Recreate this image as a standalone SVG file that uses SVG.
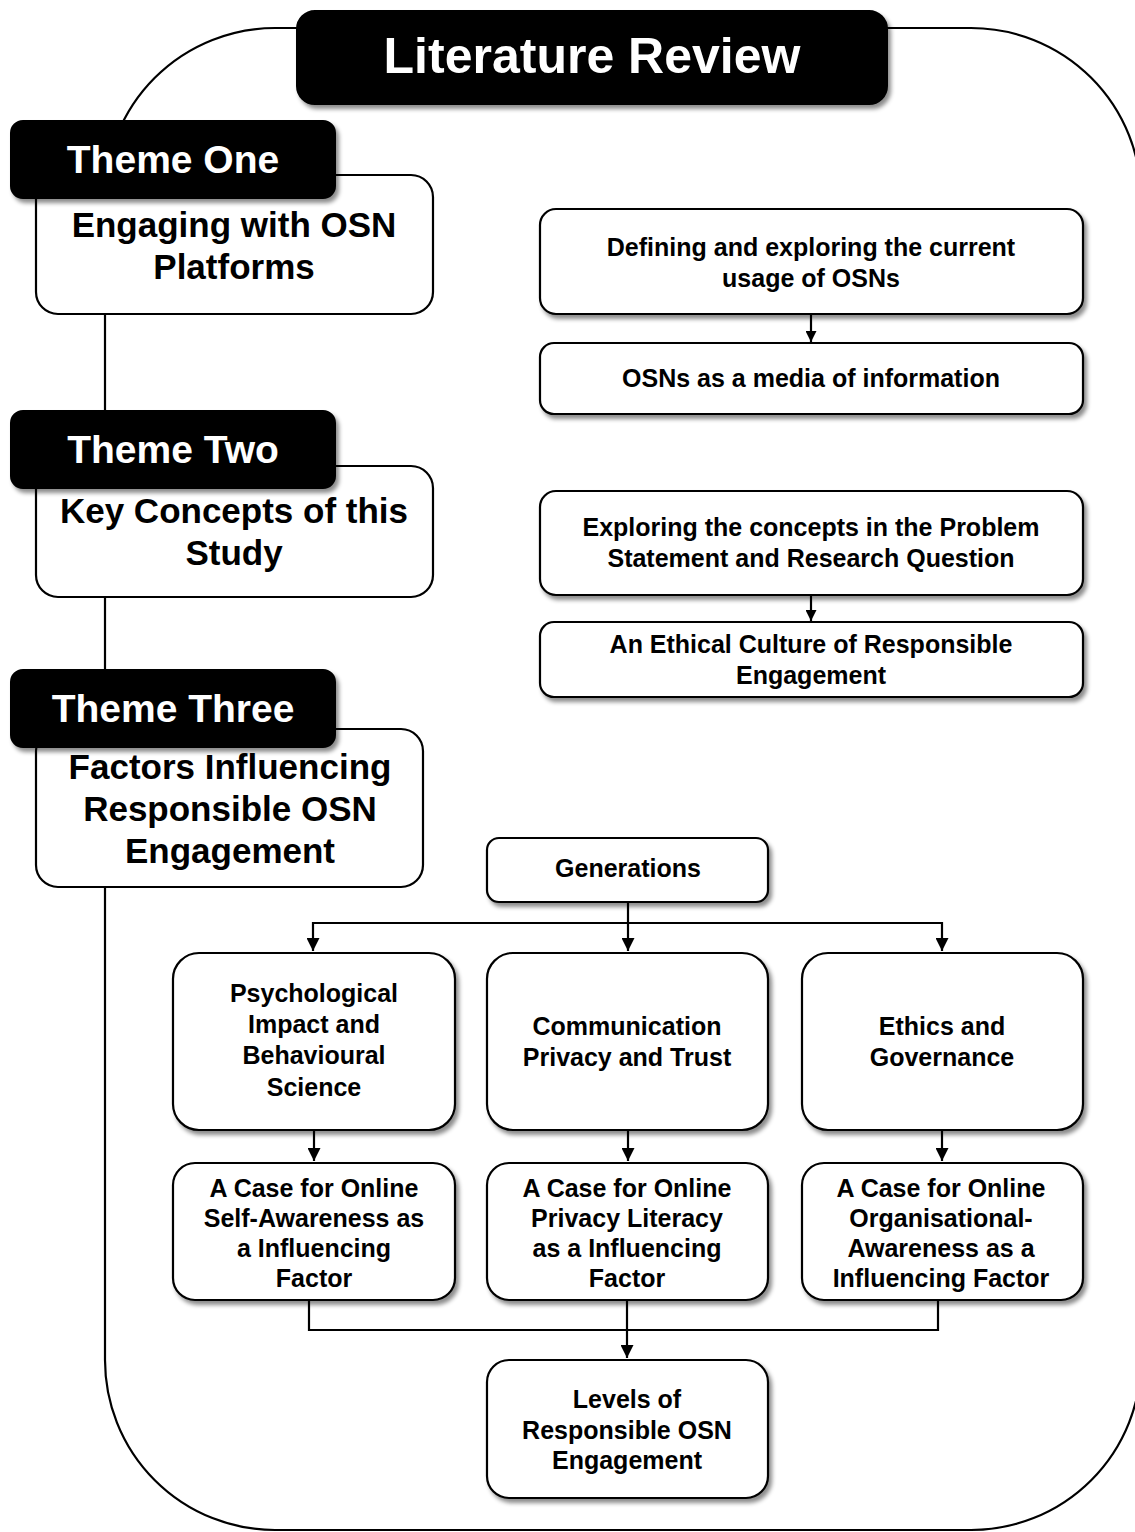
<svg xmlns="http://www.w3.org/2000/svg" width="1135" height="1532" viewBox="0 0 1135 1532">
  <style>
    .box { fill: #ffffff; stroke: #000000; stroke-width: 2.2; }
    .dark { fill: #000000; stroke: #000000; stroke-width: 2; }
    .frame { fill: none; stroke: #000000; stroke-width: 2.2; }
    .wire { fill: none; stroke: #000000; stroke-width: 2.2; }
    .t { font-family: "Liberation Sans", Arial, sans-serif; font-weight: bold; text-anchor: middle; fill: #000000; }
    .w { fill: #ffffff; }
    .s25 { font-size: 25px; }
    .s35 { font-size: 35px; }
    .s39 { font-size: 39px; }
    .s50 { font-size: 50px; }
  </style>
  <defs>
    <filter id="shadow" x="-10%" y="-10%" width="125%" height="135%">
      <feDropShadow dx="3" dy="4" stdDeviation="2.2" flood-color="#000000" flood-opacity="0.45"/>
    </filter>
    <marker id="arrow" viewBox="0 0 10 10" refX="10" refY="5" markerWidth="11" markerHeight="11" markerUnits="userSpaceOnUse" orient="auto">
      <path d="M0,0 L10,5 L0,10 Z" fill="#000000"/>
    </marker>
    <marker id="arrowL" viewBox="0 0 12 12" refX="12" refY="6" markerWidth="13" markerHeight="13" markerUnits="userSpaceOnUse" orient="auto">
      <path d="M0,0 L12,6 L0,12 Z" fill="#000000"/>
    </marker>
  </defs>

  <rect width="1135" height="1532" fill="#ffffff"/>

  <!-- outer rounded frame -->
  <rect id="frame" class="frame" x="105" y="28" width="1036" height="1502" rx="170" ry="170"/>

  <!-- connectors -->
  <g id="connectors">
    <line class="wire" x1="811" y1="314" x2="811" y2="342" marker-end="url(#arrow)"/>
    <line class="wire" x1="811" y1="595" x2="811" y2="621" marker-end="url(#arrow)"/>
    <line class="wire" x1="628" y1="902" x2="628" y2="951" marker-end="url(#arrowL)"/>
    <polyline class="wire" points="313,923 942,923 942,951" marker-end="url(#arrowL)"/>
    <line class="wire" x1="313" y1="922" x2="313" y2="951" marker-end="url(#arrowL)"/>
    <line class="wire" x1="314" y1="1130" x2="314" y2="1161" marker-end="url(#arrowL)"/>
    <line class="wire" x1="628" y1="1130" x2="628" y2="1161" marker-end="url(#arrowL)"/>
    <line class="wire" x1="942" y1="1130" x2="942" y2="1161" marker-end="url(#arrowL)"/>
    <polyline class="wire" points="309,1300 309,1330 938,1330 938,1300"/>
    <line class="wire" x1="627" y1="1300" x2="627" y2="1358" marker-end="url(#arrowL)"/>
  </g>

  <!-- title -->
  <g id="title">
    <rect class="dark" x="297" y="11" width="590" height="93" rx="18" filter="url(#shadow)"/>
    <text class="t w s50" x="592" y="73">Literature Review</text>
  </g>

  <!-- theme one -->
  <g id="theme-one">
    <rect class="box" x="36" y="175" width="397" height="139" rx="22"/>
    <text class="t s35" x="234" y="237">Engaging with OSN</text>
    <text class="t s35" x="234" y="279">Platforms</text>
    <rect class="dark" x="11" y="121" width="324" height="77" rx="12" filter="url(#shadow)"/>
    <text class="t w s39" x="173" y="173">Theme One</text>
  </g>

  <!-- theme two -->
  <g id="theme-two">
    <rect class="box" x="36" y="466" width="397" height="131" rx="22"/>
    <text class="t s35" x="234" y="523">Key Concepts of this</text>
    <text class="t s35" x="234" y="565">Study</text>
    <rect class="dark" x="11" y="411" width="324" height="77" rx="12" filter="url(#shadow)"/>
    <text class="t w s39" x="173" y="463">Theme Two</text>
  </g>

  <!-- theme three -->
  <g id="theme-three">
    <rect class="box" x="36" y="729" width="387" height="158" rx="22"/>
    <text class="t s35" x="230" y="779">Factors Influencing</text>
    <text class="t s35" x="230" y="821">Responsible OSN</text>
    <text class="t s35" x="230" y="863">Engagement</text>
    <rect class="dark" x="11" y="670" width="324" height="77" rx="12" filter="url(#shadow)"/>
    <text class="t w s39" x="173" y="722">Theme Three</text>
  </g>

  <!-- theme one topics -->
  <g id="defining-osns">
    <rect class="box" x="540" y="209" width="543" height="105" rx="16" filter="url(#shadow)"/>
    <text class="t s25" x="811" y="256">Defining and exploring the current</text>
    <text class="t s25" x="811" y="287">usage of OSNs</text>
  </g>
  <g id="osns-media">
    <rect class="box" x="540" y="343" width="543" height="71" rx="14" filter="url(#shadow)"/>
    <text class="t s25" x="811" y="387">OSNs as a media of information</text>
  </g>

  <!-- theme two topics -->
  <g id="exploring-concepts">
    <rect class="box" x="540" y="491" width="543" height="104" rx="16" filter="url(#shadow)"/>
    <text class="t s25" x="811" y="536">Exploring the concepts in the Problem</text>
    <text class="t s25" x="811" y="567">Statement and Research Question</text>
  </g>
  <g id="ethical-culture">
    <rect class="box" x="540" y="622" width="543" height="75" rx="14" filter="url(#shadow)"/>
    <text class="t s25" x="811" y="653">An Ethical Culture of Responsible</text>
    <text class="t s25" x="811" y="684">Engagement</text>
  </g>

  <!-- theme three topics -->
  <g id="generations">
    <rect class="box" x="487" y="838" width="281" height="64" rx="12" filter="url(#shadow)"/>
    <text class="t s25" x="628" y="877">Generations</text>
  </g>

  <g id="psychological">
    <rect class="box" x="173" y="953" width="282" height="177" rx="26" filter="url(#shadow)"/>
    <text class="t s25" x="314" y="1002">Psychological</text>
    <text class="t s25" x="314" y="1033">Impact and</text>
    <text class="t s25" x="314" y="1064">Behavioural</text>
    <text class="t s25" x="314" y="1096">Science</text>
  </g>
  <g id="communication">
    <rect class="box" x="487" y="953" width="281" height="177" rx="26" filter="url(#shadow)"/>
    <text class="t s25" x="627" y="1035">Communication</text>
    <text class="t s25" x="627" y="1066">Privacy and Trust</text>
  </g>
  <g id="ethics">
    <rect class="box" x="802" y="953" width="281" height="177" rx="26" filter="url(#shadow)"/>
    <text class="t s25" x="942" y="1035">Ethics and</text>
    <text class="t s25" x="942" y="1066">Governance</text>
  </g>

  <g id="self-awareness">
    <rect class="box" x="173" y="1163" width="282" height="137" rx="22" filter="url(#shadow)"/>
    <text class="t s25" x="314" y="1197">A Case for Online</text>
    <text class="t s25" x="314" y="1227">Self-Awareness as</text>
    <text class="t s25" x="314" y="1257">a Influencing</text>
    <text class="t s25" x="314" y="1287">Factor</text>
  </g>
  <g id="privacy-literacy">
    <rect class="box" x="487" y="1163" width="281" height="137" rx="22" filter="url(#shadow)"/>
    <text class="t s25" x="627" y="1197">A Case for Online</text>
    <text class="t s25" x="627" y="1227">Privacy Literacy</text>
    <text class="t s25" x="627" y="1257">as a Influencing</text>
    <text class="t s25" x="627" y="1287">Factor</text>
  </g>
  <g id="organisational-awareness">
    <rect class="box" x="802" y="1163" width="281" height="137" rx="22" filter="url(#shadow)"/>
    <text class="t s25" x="941" y="1197">A Case for Online</text>
    <text class="t s25" x="941" y="1227">Organisational-</text>
    <text class="t s25" x="941" y="1257">Awareness as a</text>
    <text class="t s25" x="941" y="1287">Influencing Factor</text>
  </g>

  <g id="levels">
    <rect class="box" x="487" y="1360" width="281" height="138" rx="22" filter="url(#shadow)"/>
    <text class="t s25" x="627" y="1408">Levels of</text>
    <text class="t s25" x="627" y="1439">Responsible OSN</text>
    <text class="t s25" x="627" y="1469">Engagement</text>
  </g>
</svg>
